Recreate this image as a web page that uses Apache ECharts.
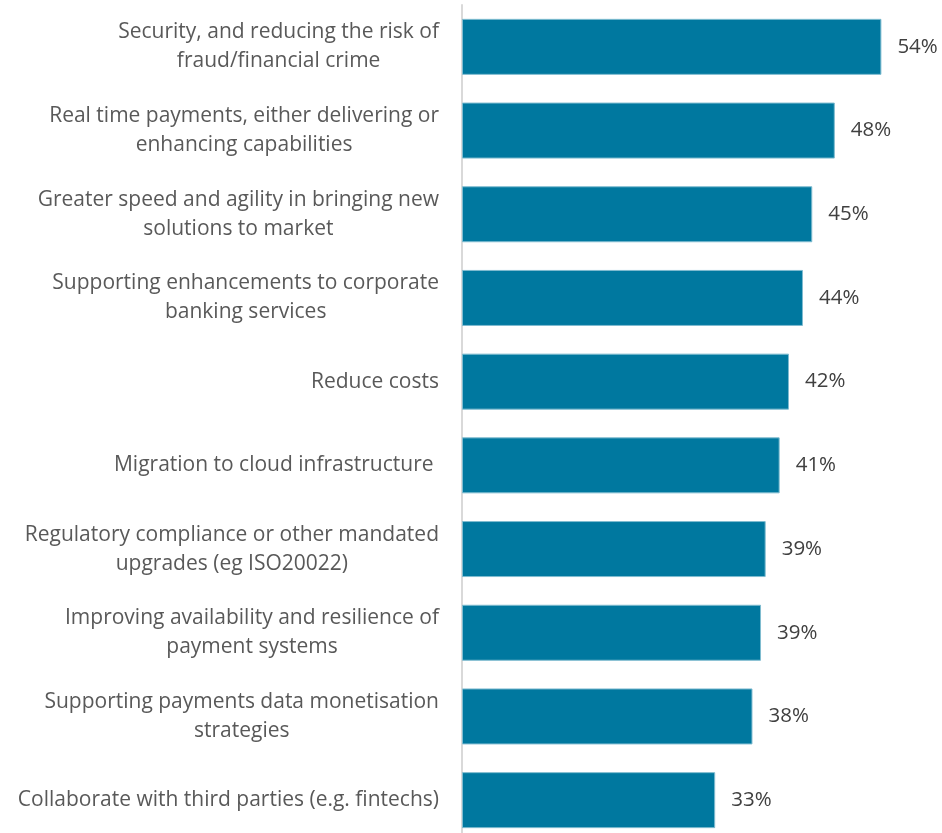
<!DOCTYPE html>
<html>
<head>
<meta charset="utf-8">
<script src="https://cdn.jsdelivr.net/npm/echarts@6/dist/echarts.min.js"></script>
<style>
  html, body { margin: 0; padding: 0; background: #fff; }
  #chart { width: 942px; height: 833px; }
</style>
</head>
<body>
<div id="chart"></div>
<script>
// categories, top to bottom
const drivers = [
  'Security, and reducing the risk of\nfraud/financial crime',
  'Real time payments, either delivering or\nenhancing capabilities',
  'Greater speed and agility in bringing new\nsolutions to market',
  'Supporting enhancements to corporate\nbanking services',
  'Reduce costs',
  'Migration to cloud infrastructure ',
  'Regulatory compliance or other mandated\nupgrades (eg ISO20022)',
  'Improving availability and resilience of\npayment systems',
  'Supporting payments data monetisation\nstrategies',
  'Collaborate with third parties (e.g. fintechs)'
]
// bar lengths as drawn (percent)
const shares = [54.0, 48.0, 45.1, 43.9, 42.1, 40.9, 39.1, 38.5, 37.4, 32.6]
// printed labels
const shareLabels = ['54%', '48%', '45%', '44%', '42%', '41%', '39%', '39%', '38%', '33%']

const font = 'Open Sans'

const chart = echarts.init(document.getElementById('chart'))
chart.setOption({
  animation: false,
  textStyle: { fontFamily: font },
  grid: {
    left: 462,
    top: 5,
    width: 466,
    height: 837,
    outerBoundsMode: 'none',
    containLabel: false
  },
  xAxis: {
    type: 'value',
    min: 0,
    max: 60,
    show: false
  },
  yAxis: {
    type: 'category',
    inverse: true,
    data: drivers,
    axisLine: { lineStyle: { color: '#d9d9d9', width: 2 } },
    axisTick: { show: false },
    axisLabel: {
      margin: 23,
      fontSize: 21,
      color: '#595959',
      lineHeight: 29,
      formatter: function (v) {
        return v.split('\n').map(function (l) { return '{c|' + l + '}' }).join('\n')
      },
      rich: {
        c: { align: 'center', fontSize: 21, color: '#595959', lineHeight: 29, fontFamily: font }
      }
    }
  },
  series: [{
    type: 'bar',
    data: shares,
    barWidth: 56,
    itemStyle: {
      color: '#00789f',
      borderColor: '#7fbcd0',
      borderWidth: 1
    },
    label: {
      show: true,
      position: 'right',
      distance: 16,
      fontSize: 20.5,
      color: '#404040',
      fontFamily: font,
      formatter: function (p) { return shareLabels[p.dataIndex] }
    }
  }]
})
</script>
</body>
</html>
